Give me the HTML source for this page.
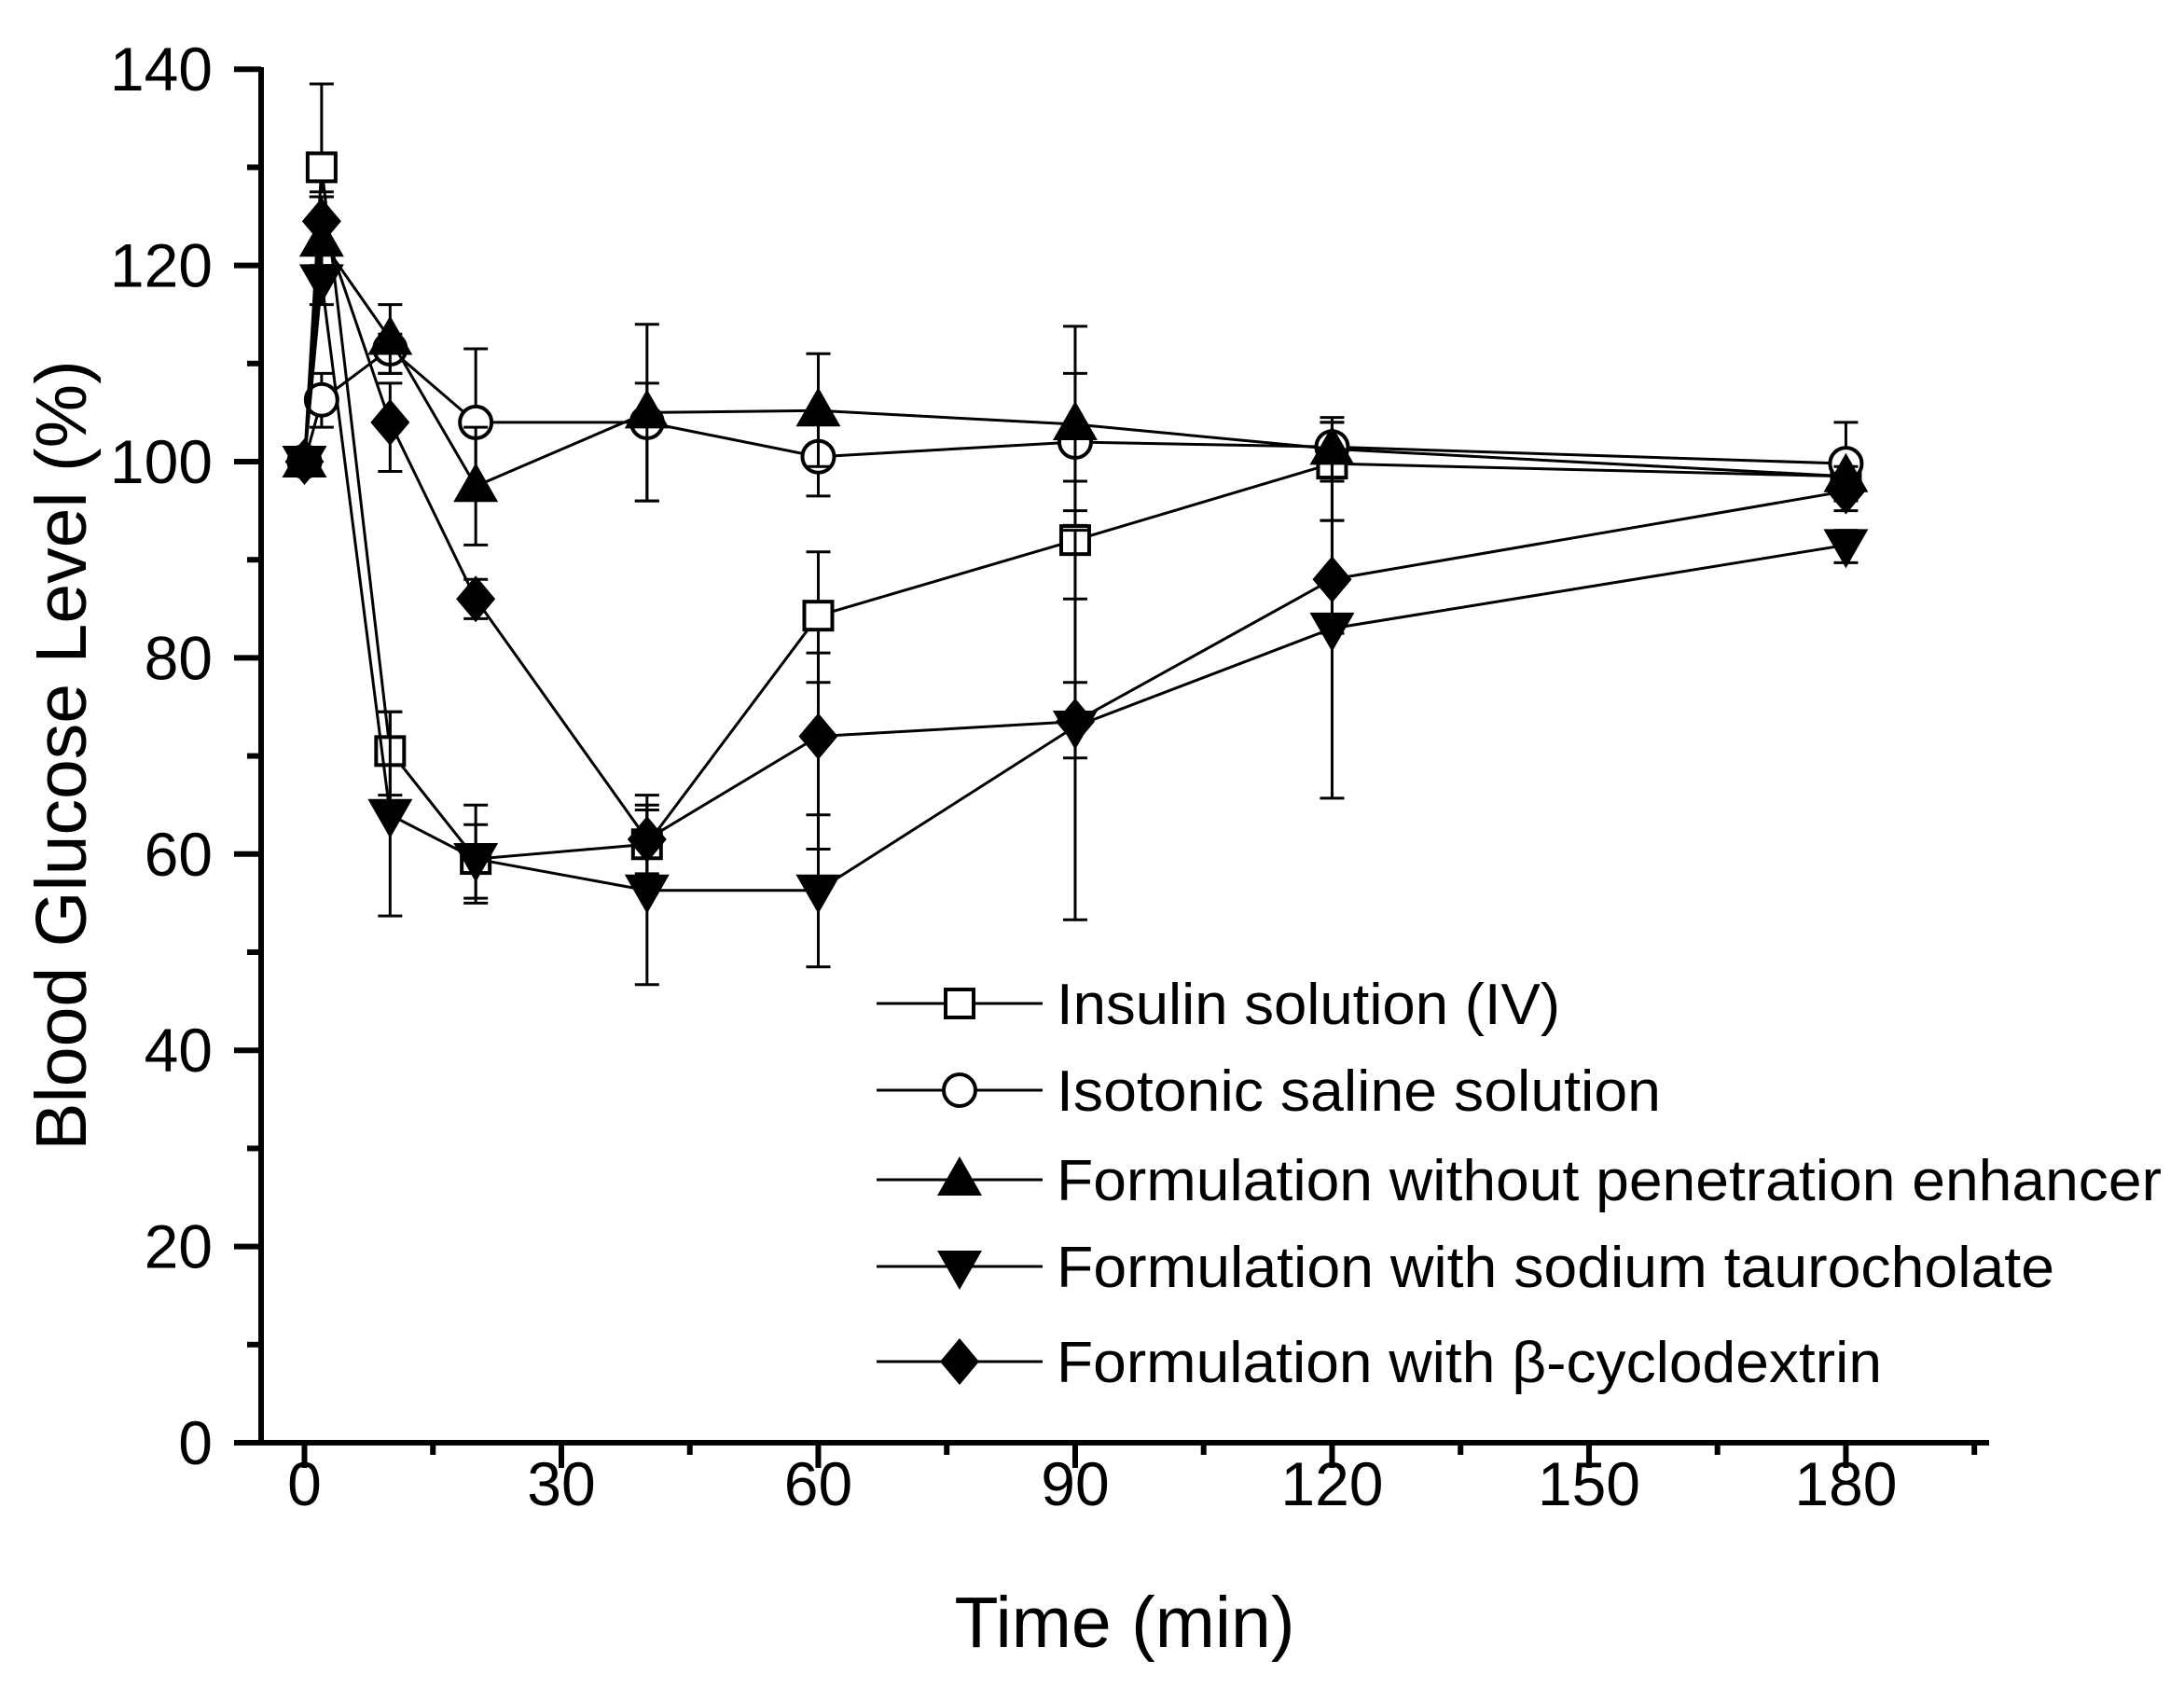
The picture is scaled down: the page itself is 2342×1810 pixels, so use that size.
<!DOCTYPE html>
<html><head><meta charset="utf-8"><style>
html,body{margin:0;padding:0;background:#fff;}
svg{display:block;font-family:"Liberation Sans",Arial,sans-serif;}
</style></head><body>
<svg id="s" width="2342" height="1810" viewBox="0 0 2342 1810" xmlns="http://www.w3.org/2000/svg">
<rect width="2342" height="1810" fill="#fff"/>
<g id="axes" stroke="#000" stroke-width="6" fill="none"></g>
<g id="lab" font-size="66" fill="#000"></g>
<text x="1206" y="1766" font-size="77" text-anchor="middle">Time (min)</text>
<text transform="translate(92,810) rotate(-90)" font-size="77" text-anchor="middle">Blood Glucose Level (%)</text>
<g id="data"></g>
<g id="leg" font-size="62"></g>
</svg>
<script>
const NS="http://www.w3.org/2000/svg";
function el(p,t,a,txt){const e=document.createElementNS(NS,t);for(const k in a)e.setAttribute(k,a[k]);if(txt!==undefined)e.textContent=txt;p.appendChild(e);return e;}
const X=t=>326.5+t*9.183, Y=v=>1547-v*10.52;
const ax=document.getElementById('axes'), lab=document.getElementById('lab');
el(ax,'line',{x1:280,y1:72,x2:280,y2:1550});
el(ax,'line',{x1:251,y1:1547,x2:2133,y2:1547});
for(let v=0;v<=140;v+=10){const y=Y(v);const maj=v%20==0;el(ax,'line',{x1:maj?251:265,y1:y,x2:280,y2:y});
 if(maj)el(lab,'text',{x:228,y:y+23,'text-anchor':'end'},String(v));}
for(let t=0;t<=195;t+=15){const x=X(t);const maj=t%30==0;el(ax,'line',{x1:x,y1:1547,x2:x,y2:maj?1574:1560});
 if(maj)el(lab,'text',{x:x,y:1614,'text-anchor':'middle'},String(t));}
const T=[0,2,10,20,40,60,90,120,180];
const S=[
 {m:'sq',v:[100,130,70.5,59.5,61,84.3,92,99.8,98.5],e:[[100,100],[138.5,127.5],[74.5,66],[65,55],[64.5,58],[90.8,77.5],[98,86],[104,94],[99.5,97.5]]},
 {m:'ci',v:[100,106.3,111.5,104,104,100.5,102,101.5,99.8],e:[[100,100],[109,103.5],[113,109],[111.5,96.5],[108,96],[104,96.5],[109,95],[104,98],[104,96]]},
 {m:'tu',v:[100,122.5,112.5,97.5,105,105.2,103.8,101.3,98.5],e:[[100,100],[127,120],[116,109],[103.5,91.5],[114,96],[111,99.5],[113.8,93.5],[104.5,98],[99.5,97.5]]},
 {m:'td',v:[100,118.5,64,59.5,56.3,56.3,73,83,91.5],e:[[100,100],[127,116],[74.5,53.7],[63,55.5],[65,46.7],[64,48.5],[93,53.3],[100,65.7],[93,89.7]]},
 {m:'di',v:[100,124.5,104,86,61.5,72,73.5,88,97],e:[[100,100],[127,122],[108,99],[88,84],[66,57.5],[80.5,60.5],[77.5,69.8],[94,82.5],[98,95]]}
];
const D=document.getElementById('data');
function marker(p,m,x,y){
 if(m=='sq')el(p,'rect',{x:x-15,y:y-15,width:30,height:30,fill:'#fff',stroke:'#000','stroke-width':4});
 else if(m=='ci')el(p,'circle',{cx:x,cy:y,r:17,fill:'#fff',stroke:'#000','stroke-width':4});
 else if(m=='tu')el(p,'polygon',{points:`${x},${y-25} ${x+24},${y+17} ${x-24},${y+17}`,fill:'#000'});
 else if(m=='td')el(p,'polygon',{points:`${x},${y+25} ${x+24},${y-17} ${x-24},${y-17}`,fill:'#000'});
 else el(p,'polygon',{points:`${x},${y-25} ${x+21},${y} ${x},${y+25} ${x-21},${y}`,fill:'#000'});
}
S.forEach(s=>{
 el(D,'polyline',{points:T.map((t,i)=>X(t)+','+Y(s.v[i])).join(' '),fill:'none',stroke:'#000','stroke-width':3});
 T.forEach((t,i)=>{const x=X(t),[hi,lo]=s.e[i];if(hi==lo)return;
  el(D,'line',{x1:x,y1:Y(hi),x2:x,y2:Y(lo),stroke:'#000','stroke-width':3});
  el(D,'line',{x1:x-13,y1:Y(hi),x2:x+13,y2:Y(hi),stroke:'#000','stroke-width':3});
  el(D,'line',{x1:x-13,y1:Y(lo),x2:x+13,y2:Y(lo),stroke:'#000','stroke-width':3});});
 T.forEach((t,i)=>marker(D,s.m,X(t),Y(s.v[i])));
});
const L=document.getElementById('leg');
const names=["Insulin solution (IV)","Isotonic saline solution","Formulation without penetration enhancer","Formulation with sodium taurocholate","Formulation with \u03b2-cyclodextrin"];
const lens=[540,648,1185,1070,885];
const ly=[1076,1169,1265,1358,1460];
names.forEach((n,i)=>{const y=ly[i];
 el(L,'line',{x1:940,y1:y,x2:1118,y2:y,stroke:'#000','stroke-width':3});
 marker(L,S[i].m,1029,y);
 el(L,'text',{x:1133,y:y+22,textLength:lens[i],lengthAdjust:'spacingAndGlyphs'},n);
});
</script>
</body></html>
